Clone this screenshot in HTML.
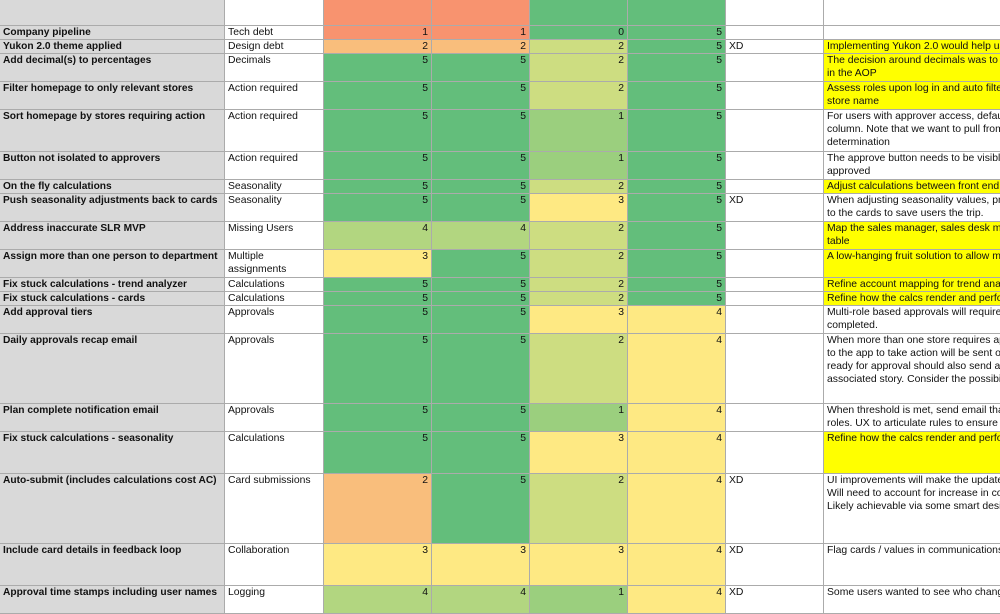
<!DOCTYPE html>
<html><head><meta charset="utf-8"><style>
html,body{margin:0;padding:0;background:#fff;width:1000px;height:600px;overflow:hidden}
table{border-collapse:collapse;table-layout:fixed;width:1004px;font-family:"Liberation Sans",Arial,sans-serif;font-size:10.4px;color:#111;position:absolute;left:-1px;top:-1px}
td{border:1px solid #ababab;padding:0 3px;line-height:13px;vertical-align:top;overflow:hidden;white-space:nowrap}
td.a{background:#d9d9d9;font-weight:bold;font-size:10.2px}
td.n{text-align:right}
td.y{background:#ffff00}
.r{background:#f8936f}.o{background:#f9be7c}.g{background:#63be7b}.lg{background:#9bcf7e}.yg{background:#cddd81}.yl{background:#fee983}.g4{background:#b2d680}
</style></head><body>
<table>
<colgroup><col style="width:225px"><col style="width:99px"><col style="width:108px"><col style="width:98px"><col style="width:98px"><col style="width:98px"><col style="width:98px"><col style="width:180px"></colgroup>
<tr style="height:26px"><td class="a"></td><td></td><td class="r"></td><td class="r"></td><td class="g"></td><td class="g"></td><td></td><td></td></tr>
<tr style="height:14px"><td class="a">Company pipeline</td><td>Tech debt</td><td class="n r">1</td><td class="n r">1</td><td class="n g">0</td><td class="n g">5</td><td></td><td></td></tr>
<tr style="height:14px"><td class="a">Yukon 2.0 theme applied</td><td>Design debt</td><td class="n o">2</td><td class="n o">2</td><td class="n yg">2</td><td class="n g">5</td><td>XD</td><td class="y">Implementing Yukon 2.0 would help us</td></tr>
<tr style="height:28px"><td class="a">Add decimal(s) to percentages</td><td>Decimals</td><td class="n g">5</td><td class="n g">5</td><td class="n yg">2</td><td class="n g">5</td><td></td><td class="y">The decision around decimals was to u<br>in the AOP</td></tr>
<tr style="height:28px"><td class="a">Filter homepage to only relevant stores</td><td>Action required</td><td class="n g">5</td><td class="n g">5</td><td class="n yg">2</td><td class="n g">5</td><td></td><td class="y">Assess roles upon log in and auto filter<br>store name</td></tr>
<tr style="height:42px"><td class="a">Sort homepage by stores requiring action</td><td>Action required</td><td class="n g">5</td><td class="n g">5</td><td class="n lg">1</td><td class="n g">5</td><td></td><td>For users with approver access, default<br>column. Note that we want to pull from<br>determination</td></tr>
<tr style="height:28px"><td class="a">Button not isolated to approvers</td><td>Action required</td><td class="n g">5</td><td class="n g">5</td><td class="n lg">1</td><td class="n g">5</td><td></td><td>The approve button needs to be visible<br>approved</td></tr>
<tr style="height:14px"><td class="a">On the fly calculations</td><td>Seasonality</td><td class="n g">5</td><td class="n g">5</td><td class="n yg">2</td><td class="n g">5</td><td></td><td class="y">Adjust calculations between front end a</td></tr>
<tr style="height:28px"><td class="a">Push seasonality adjustments back to cards</td><td>Seasonality</td><td class="n g">5</td><td class="n g">5</td><td class="n yl">3</td><td class="n g">5</td><td>XD</td><td>When adjusting seasonality values, pro<br>to the cards to save users the trip.</td></tr>
<tr style="height:28px"><td class="a">Address inaccurate SLR MVP</td><td>Missing Users</td><td class="n g4">4</td><td class="n g4">4</td><td class="n yg">2</td><td class="n g">5</td><td></td><td class="y">Map the sales manager, sales desk ma<br>table</td></tr>
<tr style="height:28px"><td class="a">Assign more than one person to department</td><td>Multiple<br>assignments</td><td class="n yl">3</td><td class="n g">5</td><td class="n yg">2</td><td class="n g">5</td><td></td><td class="y">A low-hanging fruit solution to allow m</td></tr>
<tr style="height:14px"><td class="a">Fix stuck calculations - trend analyzer</td><td>Calculations</td><td class="n g">5</td><td class="n g">5</td><td class="n yg">2</td><td class="n g">5</td><td></td><td class="y">Refine account mapping for trend analy</td></tr>
<tr style="height:14px"><td class="a">Fix stuck calculations - cards</td><td>Calculations</td><td class="n g">5</td><td class="n g">5</td><td class="n yg">2</td><td class="n g">5</td><td></td><td class="y">Refine how the calcs render and perfor</td></tr>
<tr style="height:28px"><td class="a">Add approval tiers</td><td>Approvals</td><td class="n g">5</td><td class="n g">5</td><td class="n yl">3</td><td class="n yl">4</td><td></td><td>Multi-role based approvals will require r<br>completed.</td></tr>
<tr style="height:70px"><td class="a">Daily approvals recap email</td><td>Approvals</td><td class="n g">5</td><td class="n g">5</td><td class="n yg">2</td><td class="n yl">4</td><td></td><td>When more than one store requires app<br>to the app to take action will be sent ou<br>ready for approval should also send an<br>associated story. Consider the possibilit</td></tr>
<tr style="height:28px"><td class="a">Plan complete notification email</td><td>Approvals</td><td class="n g">5</td><td class="n g">5</td><td class="n lg">1</td><td class="n yl">4</td><td></td><td>When threshold is met, send email that<br>roles. UX to articulate rules to ensure co</td></tr>
<tr style="height:42px"><td class="a">Fix stuck calculations - seasonality</td><td>Calculations</td><td class="n g">5</td><td class="n g">5</td><td class="n yl">3</td><td class="n yl">4</td><td></td><td class="y">Refine how the calcs render and perform</td></tr>
<tr style="height:70px"><td class="a">Auto-submit (includes calculations cost AC)</td><td>Card submissions</td><td class="n o">2</td><td class="n g">5</td><td class="n yg">2</td><td class="n yl">4</td><td>XD</td><td>UI improvements will make the update<br>Will need to account for increase in cos<br>Likely achievable via some smart design</td></tr>
<tr style="height:42px"><td class="a">Include card details in feedback loop</td><td>Collaboration</td><td class="n yl">3</td><td class="n yl">3</td><td class="n yl">3</td><td class="n yl">4</td><td>XD</td><td>Flag cards / values in communications</td></tr>
<tr style="height:28px"><td class="a">Approval time stamps including user names</td><td>Logging</td><td class="n g4">4</td><td class="n g4">4</td><td class="n lg">1</td><td class="n yl">4</td><td>XD</td><td>Some users wanted to see who change</td></tr>
</table>
</body></html>
